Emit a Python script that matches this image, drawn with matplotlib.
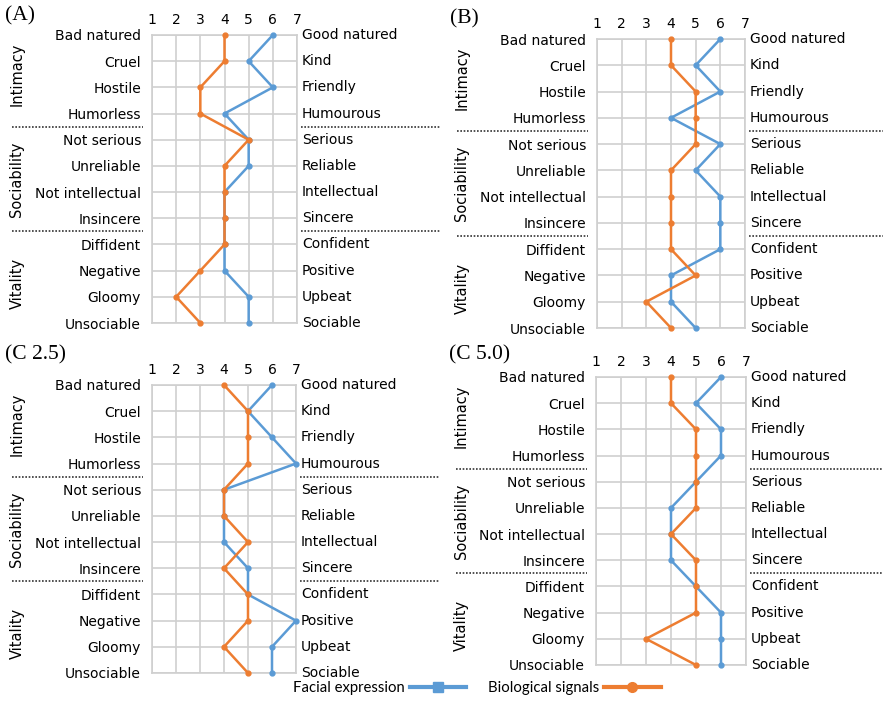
import matplotlib
matplotlib.use('Agg')
import matplotlib.pyplot as plt
import matplotlib.transforms as mtransforms
from matplotlib.lines import Line2D

left_labels = ['Bad natured', 'Cruel', 'Hostile', 'Humorless',
               'Not serious', 'Unreliable', 'Not intellectual', 'Insincere',
               'Diffident', 'Negative', 'Gloomy', 'Unsociable']
right_labels = ['Good natured', 'Kind', 'Friendly', 'Humourous',
                'Serious', 'Reliable', 'Intellectual', 'Sincere',
                'Confident', 'Positive', 'Upbeat', 'Sociable']
groups = ['Intimacy', 'Sociability', 'Vitality']
scale = [1, 2, 3, 4, 5, 6, 7]

panel_names = ['(A)', '(B)', '(C 2.5)', '(C 5.0)']
facial_A = [6, 5, 6, 4, 5, 5, 4, 4, 4, 4, 5, 5]
bio_A = [4, 4, 3, 3, 5, 4, 4, 4, 4, 3, 2, 3]
facial_B = [6, 5, 6, 4, 6, 5, 6, 6, 6, 4, 4, 5]
bio_B = [4, 4, 5, 5, 5, 4, 4, 4, 4, 5, 3, 4]
facial_C25 = [6, 5, 6, 7, 4, 4, 4, 5, 5, 7, 6, 6]
bio_C25 = [4, 5, 5, 5, 4, 4, 5, 4, 5, 5, 4, 5]
facial_C50 = [6, 5, 6, 6, 5, 4, 4, 4, 5, 6, 6, 6]
bio_C50 = [4, 4, 5, 5, 5, 5, 4, 5, 5, 5, 3, 5]

blue = '#5b9bd5'
orange = '#ed7d31'
W, H = 883, 701

fig = plt.figure(figsize=(W / 100, H / 100), dpi=100)

# pixel boxes: left, right, top, bottom
boxes = [(152, 297, 35, 323), (597, 745, 39, 328),
         (152, 296, 385, 673), (596, 746, 377, 665)]
name_y = [16, 19, 355, 355]
series = [(facial_A, bio_A), (facial_B, bio_B),
          (facial_C25, bio_C25), (facial_C50, bio_C50)]

rows = list(range(len(left_labels)))

for name, ny, (l, r, t, b), (fac, bio) in zip(panel_names, name_y, boxes, series):
    ax = fig.add_axes([l / W, 1 - b / H, (r - l) / W, (b - t) / H])
    ax.set_xlim(1, 7)
    ax.set_ylim(11, 0)
    ax.set_xticks(scale)
    ax.set_yticks(rows)
    ax.set_yticklabels(left_labels, fontsize=10)
    ax.xaxis.tick_top()
    ax.tick_params(axis='x', length=0, labelsize=10, pad=6)
    ax.tick_params(axis='y', length=0, pad=8)
    ax.grid(True, color='#cfcfcf', lw=1.2)
    for s in ax.spines.values():
        s.set_color('#cfcfcf')
        s.set_linewidth(1.2)
    ax.set_axisbelow(True)

    ax.plot(fac, rows, color=blue, lw=1.8, marker='o', ms=3.5, clip_on=False, zorder=3)
    ax.plot(bio, rows, color=orange, lw=1.8, marker='o', ms=3.5, clip_on=False, zorder=4)

    for i, lab in enumerate(right_labels):
        ax.text(1.0 + 5 / (r - l), i, lab, transform=mtransforms.blended_transform_factory(ax.transAxes, ax.transData),
                ha='left', va='center', fontsize=10)

    # group separators and names
    tr = mtransforms.blended_transform_factory(fig.transFigure, ax.transData)
    x0 = l - 142
    for ysep in (3.5, 7.5):
        ax.plot([(x0 + 2) / W, (l - 9) / W], [ysep, ysep], transform=tr, color='#333333',
                lw=1.2, ls=(0, (1, 1)), clip_on=False)
        ax.plot([(r + 4) / W, (r + 144) / W], [ysep, ysep], transform=tr, color='#333333',
                lw=1.2, ls=(0, (1, 1)), clip_on=False)
    for gi, g in enumerate(groups):
        ax.text((x0 + 7) / W, gi * 4 + 1.5, g, transform=tr, rotation=90,
                ha='center', va='center', fontsize=10.5)

    fig.text((l - 147) / W, 1 - ny / H, name, family='Liberation Serif',
             fontsize=15.5, ha='left', va='center')

handles = [Line2D([], [], color=blue, lw=3, marker='s', ms=7),
           Line2D([], [], color=orange, lw=3, marker='o', ms=7)]
fig.legend(handles, ['Facial expression', 'Biological signals'], loc='center',
           bbox_to_anchor=(477 / W, 1 - 688 / H), ncol=2, frameon=False,
           markerfirst=False, handlelength=3.8, handletextpad=0.3,
           columnspacing=1.5, prop={'family': 'Lato', 'size': 10.7})

fig.savefig('out.png', dpi=100)
